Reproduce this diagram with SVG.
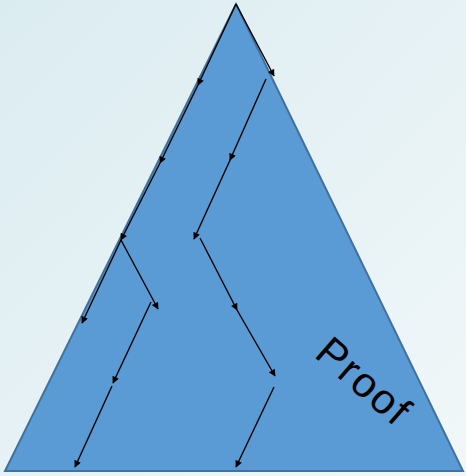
<svg xmlns="http://www.w3.org/2000/svg" width="466" height="476" viewBox="0 0 466 476">
<defs>
<linearGradient id="bg" x1="0" y1="0" x2="1" y2="1">
<stop offset="0" stop-color="#dbecf1"/>
<stop offset="1" stop-color="#f1f7f9"/>
</linearGradient>
<marker id="ah" viewBox="0 0 10 10" refX="9" refY="5" markerWidth="8" markerHeight="7" markerUnits="userSpaceOnUse" orient="auto">
<path d="M0,0 L10,5 L0,10 z" fill="#000"/>
</marker>
<style>
.arr{stroke:#000;stroke-width:1.4;fill:none;marker-end:url(#ah)}
.tri{fill:#5b9bd5;stroke:#41719c;stroke-width:2}
.lbl{font-family:"Liberation Sans",Arial,sans-serif;font-size:42px;letter-spacing:2px;fill:#000}
</style>
</defs>
<rect width="466" height="476" fill="url(#bg)"/>
<g id="triangle">
<polygon class="tri" points="236,4 463,471 5,471"/>
</g>
<g id="label">
<text class="lbl" transform="translate(313,356) rotate(41)">Proof</text>
</g>
<g id="connectors">
<line class="arr" x1="236" y1="4" x2="274" y2="76"/>
<line class="arr" x1="236" y1="4" x2="198" y2="85"/>
<line class="arr" x1="198" y1="85" x2="160" y2="163"/>
<line class="arr" x1="160" y1="163" x2="121" y2="240"/>
<line class="arr" x1="121" y1="240" x2="82" y2="323"/>
<line class="arr" x1="121" y1="240" x2="158" y2="309"/>
<line class="arr" x1="151" y1="302" x2="113" y2="383"/>
<line class="arr" x1="112" y1="386" x2="75" y2="467"/>
<line class="arr" x1="266" y1="79" x2="230" y2="160"/>
<line class="arr" x1="231" y1="158" x2="194" y2="239"/>
<line class="arr" x1="200" y1="238" x2="237" y2="310"/>
<line class="arr" x1="237" y1="310" x2="275" y2="376"/>
<line class="arr" x1="274" y1="387" x2="236" y2="467"/>
</g>
</svg>
